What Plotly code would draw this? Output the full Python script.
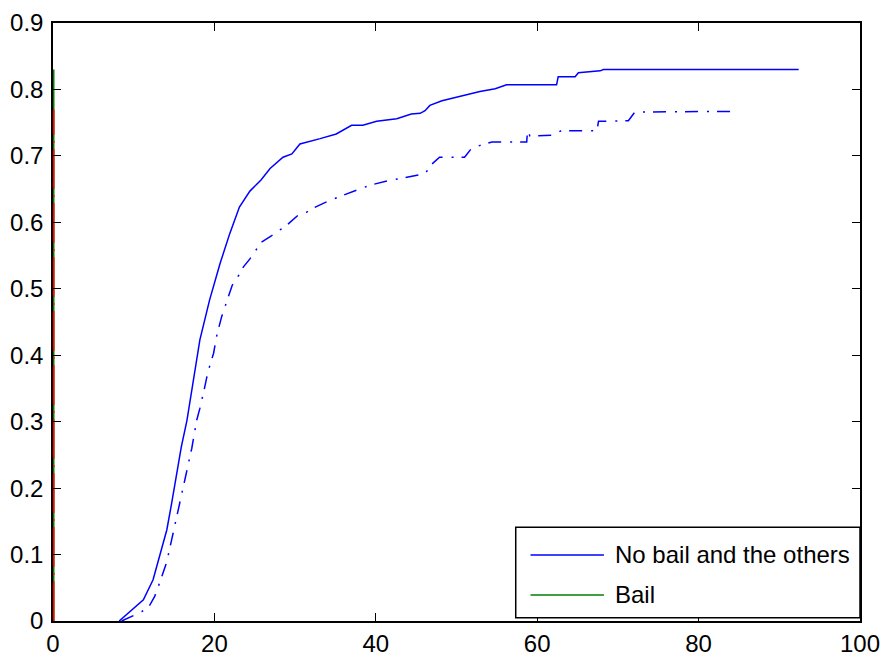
import plotly.graph_objects as go

# ---- data ----
nobail_x = [8.2, 11.2, 12.4, 13.2, 14.1, 14.7, 15.3, 15.9, 16.6, 17.2, 18.2, 19.4, 20.7, 21.9, 23.1,
            24.4, 25.8, 26.9, 28.5, 29.6, 30.6, 33.1, 35.1, 37.0, 38.4, 40.1, 42.6, 44.4, 45.5, 46.1,
            46.7, 48.2, 49.8, 51.3, 52.9, 54.8, 56.2, 62.4, 62.6, 64.7, 65.1, 67.8, 68.2, 92.4]
nobail_y = [0.0, 0.032, 0.062, 0.097, 0.137, 0.177, 0.217, 0.262, 0.302, 0.347, 0.423, 0.483, 0.538,
            0.583, 0.623, 0.647, 0.664, 0.681, 0.698, 0.703, 0.718, 0.726, 0.733, 0.746, 0.746, 0.752,
            0.756, 0.763, 0.764, 0.768, 0.776, 0.783, 0.788, 0.793, 0.797, 0.801, 0.807, 0.807, 0.819,
            0.819, 0.825, 0.828, 0.830, 0.830]

nobail_alt_x = [8.5, 11.0, 12.0, 12.6, 13.2, 14.1, 14.7, 15.1, 15.7, 16.1, 16.8, 17.2, 17.8, 18.2,
                18.8, 19.2, 19.9, 20.3, 20.9, 21.7, 22.2, 23.0, 23.6, 24.4, 25.0, 25.8, 27.1, 27.7,
                28.9, 30.4, 31.4, 32.5, 34.3, 36.0, 37.6, 39.3, 41.7, 43.6, 45.1, 46.1, 46.9, 47.9,
                51.0, 51.9, 54.4, 58.7, 58.8, 59.1, 61.8, 63.0, 67.4, 67.6, 71.3, 72.1, 84.7]
nobail_alt_y = [0.0, 0.014, 0.024, 0.037, 0.057, 0.089, 0.122, 0.144, 0.177, 0.202, 0.237, 0.260,
                0.302, 0.320, 0.352, 0.375, 0.403, 0.430, 0.458, 0.485, 0.505, 0.520, 0.533, 0.545,
                0.556, 0.570, 0.580, 0.585, 0.595, 0.611, 0.615, 0.623, 0.633, 0.641, 0.648, 0.656,
                0.663, 0.667, 0.670, 0.673, 0.687, 0.698, 0.698, 0.712, 0.721, 0.721, 0.738, 0.730,
                0.731, 0.738, 0.738, 0.752, 0.753, 0.766, 0.767]

bail_x = [0, 0]
bail_y = [0.0, 0.83]
bail_alt_x = [0, 0]
bail_alt_y = [0.0, 0.77]

x_ticks = [0, 20, 40, 60, 80, 100]
x_ticklabels = ["0", "20", "40", "60", "80", "100"]
y_ticks = [0, 0.1, 0.2, 0.3, 0.4, 0.5, 0.6, 0.7, 0.8, 0.9]
y_ticklabels = ["0", "0.1", "0.2", "0.3", "0.4", "0.5", "0.6", "0.7", "0.8", "0.9"]

legend_labels = ["No bail and the others", "Bail"]

BLUE = "rgb(0,0,255)"
GREEN = "rgb(0,128,0)"
RED = "rgb(255,0,0)"
FONT = "Liberation Sans, Arial, Helvetica, sans-serif"
DASHDOT = "13px,9px,2px,8px"

fig = go.Figure()
fig.add_trace(go.Scatter(x=bail_x, y=bail_y, mode="lines",
                         line=dict(color=GREEN, width=3), name=legend_labels[1], showlegend=False))
fig.add_trace(go.Scatter(x=bail_alt_x, y=bail_alt_y, mode="lines",
                         line=dict(color=RED, width=3, dash="40px,6px,2px,6px"), showlegend=False))
fig.add_trace(go.Scatter(x=nobail_x, y=nobail_y, mode="lines",
                         line=dict(color=BLUE, width=1.5), name=legend_labels[0], showlegend=False))
fig.add_trace(go.Scatter(x=nobail_alt_x, y=nobail_alt_y, mode="lines",
                         line=dict(color=BLUE, width=1.5, dash=DASHDOT), showlegend=False))

axis_common = dict(showgrid=False, zeroline=False, showline=True, linecolor="black", linewidth=1.5,
                   mirror="ticks", ticks="inside", ticklen=8, tickwidth=1, tickcolor="black",
                   automargin=False,
                   tickfont=dict(family=FONT, size=24, color="black"))

fig.update_xaxes(range=[0, 100], tickvals=x_ticks, ticktext=x_ticklabels, **axis_common)
fig.update_yaxes(range=[0, 0.9], tickvals=y_ticks, ticktext=y_ticklabels,
                 ticklabelstandoff=3, **axis_common)

# manual MATLAB-style legend (box, line samples, labels)
lx0, lx1, ly0, ly1 = 0.5734, 1.0, 0.0055, 0.1567
fig.add_shape(type="rect", xref="paper", yref="paper", x0=lx0, x1=lx1, y0=ly0, y1=ly1,
              line=dict(color="black", width=1.5), fillcolor="white", layer="above")
entry_y = [0.1104, 0.0435]
entry_colors = [BLUE, GREEN]
for lab, yy, col in zip(legend_labels, entry_y, entry_colors):
    fig.add_shape(type="line", xref="paper", yref="paper", x0=0.5917, x1=0.6827, y0=yy, y1=yy,
                  line=dict(color=col, width=1.5), layer="above")
    fig.add_annotation(xref="paper", yref="paper", x=0.6943, y=yy, text=lab, showarrow=False,
                       xanchor="left", yanchor="middle",
                       font=dict(family=FONT, size=24, color="black"))

fig.update_layout(width=884, height=660, paper_bgcolor="white", plot_bgcolor="white",
                  margin=dict(l=53, r=24, t=23, b=39, autoexpand=False), showlegend=False,
                  font=dict(family=FONT, size=24, color="black"))

fig.write_html(
    "out.html",
    config={"displayModeBar": False},
    post_script=("document.documentElement.style.margin='0';document.body.style.margin='0';"
                 "document.body.style.padding='0';document.body.style.overflow='hidden';"
                 "document.documentElement.style.overflow='hidden';"),
)
